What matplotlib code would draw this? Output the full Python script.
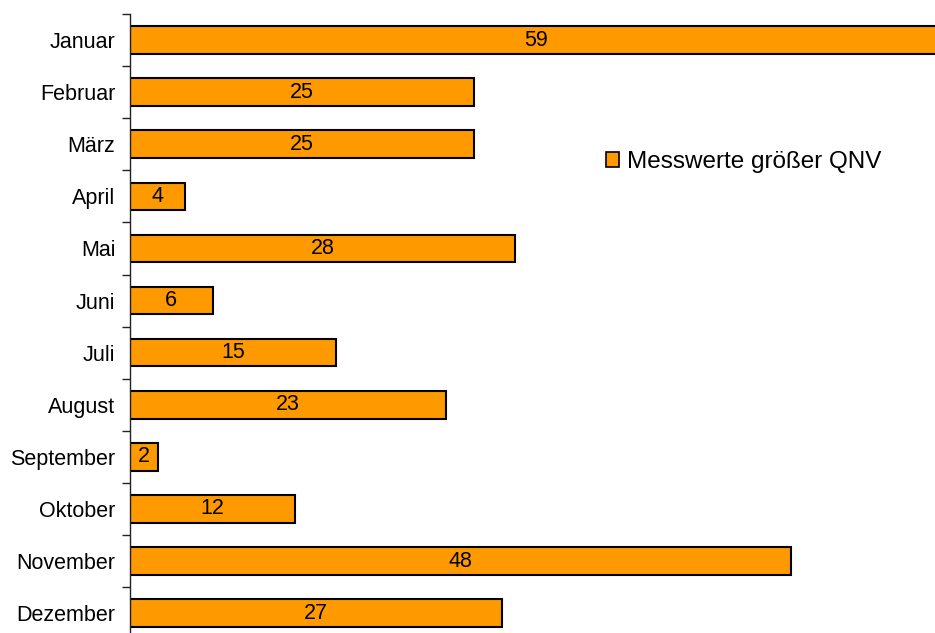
import numpy as np
import matplotlib.pyplot as plt
from matplotlib.patches import Patch

months = ["Januar", "Februar", "März", "April", "Mai", "Juni", "Juli",
          "August", "September", "Oktober", "November", "Dezember"]
counts = [59, 25, 25, 4, 28, 6, 15, 23, 2, 12, 48, 27]
series_name = "Messwerte größer QNV"

plt.rcParams["font.family"] = ["Liberation Sans", "DejaVu Sans"]

fig = plt.figure(figsize=(9.35, 6.33), dpi=100)
ax = fig.add_axes([130 / 935, 0.0, 1 - 130 / 935, 1 - 14 / 633])

pos = np.arange(len(months))
ax.barh(pos, counts, height=0.53, color="#FF9900", edgecolor="black",
        linewidth=1.5, clip_on=True)

for y, v in zip(pos, counts):
    ax.text(v / 2, y, str(v), ha="center", va="center", fontsize=15.5)

ax.set_xlim(0, 58.5)
ax.set_ylim(11.38, -0.5)

for side in ["top", "right", "bottom"]:
    ax.spines[side].set_visible(False)
ax.spines["left"].set_color("#222222")
ax.spines["left"].set_linewidth(1.0)

# labels sit on the categories, tick marks go between them
ax.set_xticks([])
ax.set_yticks(pos)
ax.set_yticklabels(months, fontsize=15.5)
ax.set_yticks(np.r_[-0.5, pos[:-1] + 0.5], minor=True)
ax.tick_params(axis="y", which="major", length=0, pad=10.5)
ax.tick_params(axis="y", which="minor", length=6, width=1.0, color="#222222")

handle = Patch(facecolor="#FF9900", edgecolor="black", linewidth=1.2)
ax.legend([handle], [series_name], loc="center left",
          bbox_to_anchor=(606 / 935, 1 - 162 / 633),
          bbox_transform=fig.transFigure, frameon=False, fontsize=17.5,
          borderpad=0, borderaxespad=0, handlelength=0.55, handleheight=0.55,
          handletextpad=0.3)

fig.savefig("out.png", dpi=100)
